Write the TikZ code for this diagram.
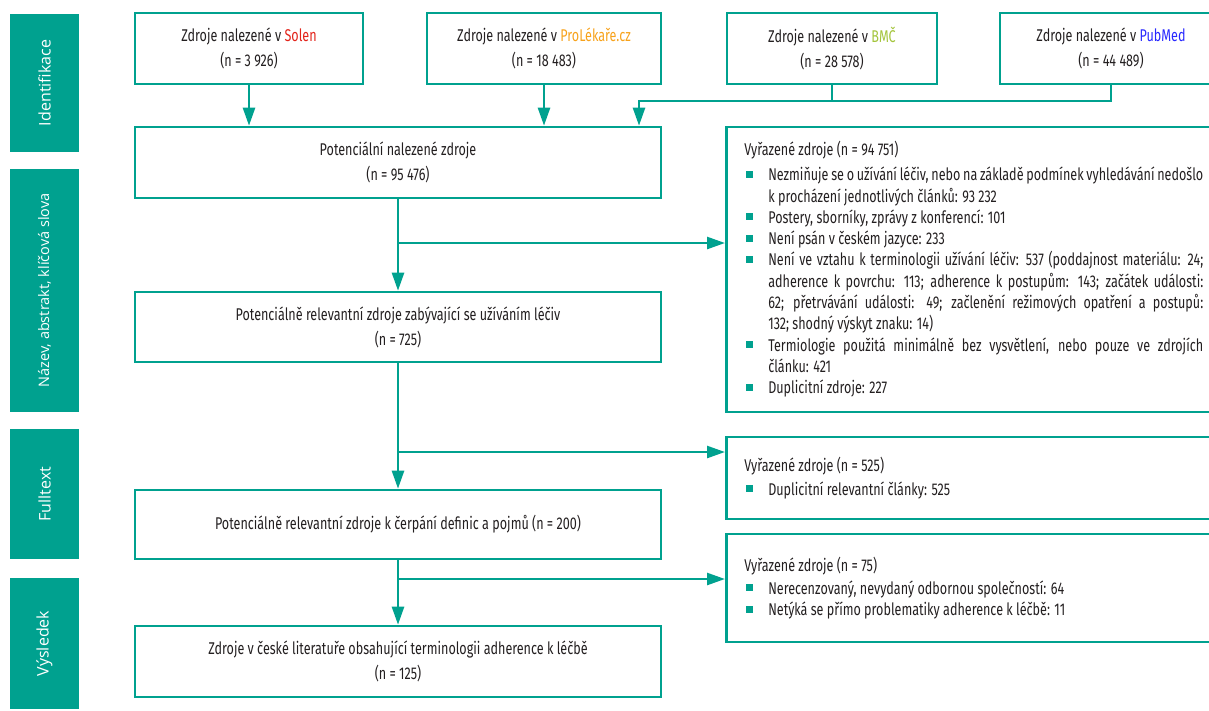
\documentclass[tikz,border=0pt]{standalone}
\usepackage{fontspec}
\setmainfont{Fira Sans}[FakeStretch=0.74, WordSpace={1,1,2.5}]
\newfontfamily\barfont{Open Sans}
\usetikzlibrary{arrows.meta}
\definecolor{flowteal}{RGB}{0,161,143}
\definecolor{solenred}{RGB}{226,35,26}
\definecolor{prolorange}{RGB}{247,162,27}
\definecolor{bmcgreen}{RGB}{163,196,59}
\definecolor{pubblue}{RGB}{40,40,255}
\definecolor{txtgray}{RGB}{35,31,32}
\hyphenpenalty=10000
\exhyphenpenalty=10000
\tolerance=9999
% square bullet with hanging indent
\newcommand{\bul}{\par\hangindent=24pt\hangafter=1\noindent\makebox[24pt][l]{\hspace{2pt}\textcolor{flowteal}{\rule[3pt]{7pt}{7pt}}}}
\begin{document}
\begin{tikzpicture}[x=1pt, y=-1pt,
    box/.style={draw=flowteal, line width=2.6pt, align=center, text=txtgray,
      font=\fontsize{17}{25}\selectfont, inner sep=0pt},
    exbox/.style={draw=flowteal, line width=2.6pt, anchor=west, text=txtgray,
      text width=459pt, align=justify, inner xsep=18pt, inner ysep=0pt,
      font=\fontsize{17}{21.3}\selectfont},
    bar/.style={fill=flowteal, text=white, rotate=90, inner sep=0pt,
      font=\barfont\fontsize{16}{18}\selectfont, minimum height=69pt},
    flow/.style={draw=flowteal, line width=2.5pt, -{Triangle[width=12pt,length=18pt]}},
    link/.style={draw=flowteal, line width=2.5pt}]
  \useasboundingbox (0,0) rectangle (1209,710);
  \clip (0,0) rectangle (1209,710);
  % phase bars
  \node[bar, minimum width=138pt] (idbar) at (44.5,83) {Identifikace};
  \node[bar, minimum width=243pt, font=\barfont\fontsize{14.5}{18}\selectfont] (nazbar) at (44.5,290.5) {Název, abstrakt, klíčová slova};
  \node[bar, minimum width=130pt] (fullbar) at (44.5,494) {Fulltext};
  \node[bar, minimum width=131pt] (vysbar) at (44.5,643.5) {Výsledek};
  % databases
  \node[box, minimum width=228pt, minimum height=71pt] (solen) at (249,48.5)
    {Zdroje nalezené v \textcolor{solenred}{Solen}\\(n = 3 926)};
  \node[box, minimum width=234pt, minimum height=71pt] (prol) at (544,48.5)
    {Zdroje nalezené v \textcolor{prolorange}{ProLékaře.cz}\\(n = 18 483)};
  \node[box, minimum width=210pt, minimum height=71pt] (bmc) at (832,48.5)
    {Zdroje nalezené v \textcolor{bmcgreen}{BMČ}\\(n = 28 578)};
  \node[box, minimum width=222pt, minimum height=71pt] (pubmed) at (1111,48.5)
    {Zdroje nalezené v \textcolor{pubblue}{PubMed}\\(n = 44 489)};
  % main column
  \node[box, minimum width=526pt, minimum height=71pt] (potnal) at (398,162.5)
    {Potenciální nalezené zdroje\\(n = 95 476)};
  \node[box, minimum width=526pt, minimum height=70pt] (potrel) at (398,327)
    {Potenciálně relevantní zdroje zabývající se užíváním léčiv\\(n = 725)};
  \node[box, minimum width=526pt, minimum height=69pt] (potdef) at (398,524.5)
    {Potenciálně relevantní zdroje k čerpání definic a pojmů (n = 200)};
  \node[box, minimum width=526pt, minimum height=71pt] (vysl) at (398,661.5)
    {Zdroje v české literatuře obsahující terminologii adherence k léčbě\\(n = 125)};
  % excluded
  \node[exbox, minimum height=285pt] (excl1) at (725,269.5) {%
    \noindent Vyřazené zdroje (n = 94 751)\par\vspace{3.5pt}
    \bul Nezmiňuje se o užívání léčiv, nebo na základě podmínek vyhledávání nedošlo \linebreak k procházení jednotlivých článků: 93 232
    \bul Postery, sborníky, zprávy z konferencí: 101
    \bul Není psán v českém jazyce: 233
    \bul Není ve vztahu k terminologii užívání léčiv: 537 (poddajnost materiálu: 24; \linebreak adherence k povrchu: 113; adherence k postupům: 143; začátek události: \linebreak 62; přetrvávání události: 49; začlenění režimových opatření a postupů: \linebreak 132; shodný výskyt znaku: 14)
    \bul Termiologie použitá minimálně bez vysvětlení, nebo pouze ve zdrojích \linebreak článku: 421
    \bul Duplicitní zdroje: 227\par};
  \node[exbox, minimum height=82pt] (excl2) at (725,478) {%
    \noindent Vyřazené zdroje (n = 525)\par\vspace{2pt}
    \bul Duplicitní relevantní články: 525\par};
  \node[exbox, minimum height=108pt] (excl3) at (725,588) {%
    \noindent Vyřazené zdroje (n = 75)\par\vspace{2pt}
    \bul Nerecenzovaný, nevydaný odbornou společností: 64
    \bul Netýká se přímo problematiky adherence k léčbě: 11\par};
  % junctions
  \coordinate (jtop) at (639,101);
  \coordinate (br1) at (398,243);
  \coordinate (br2) at (398,452);
  \coordinate (br3) at (398,579);
  % connectors
  \draw[flow] (solen.south) -- (solen.south |- potnal.north);
  \draw[flow] (prol.south) -- (prol.south |- potnal.north);
  \draw[link] (bmc.south) -- (bmc.south |- jtop);
  \draw[flow] (pubmed.south) |- (jtop) -- (jtop |- potnal.north);
  \draw[flow] (potnal.south) -- (potrel.north);
  \draw[flow] (br1) -- (br1 -| excl1.west);
  \draw[flow] (potrel.south) -- (potdef.north);
  \draw[flow] (br2) -- (br2 -| excl2.west);
  \draw[flow] (potdef.south) -- (vysl.north);
  \draw[flow] (br3) -- (br3 -| excl3.west);
\end{tikzpicture}
\end{document}
